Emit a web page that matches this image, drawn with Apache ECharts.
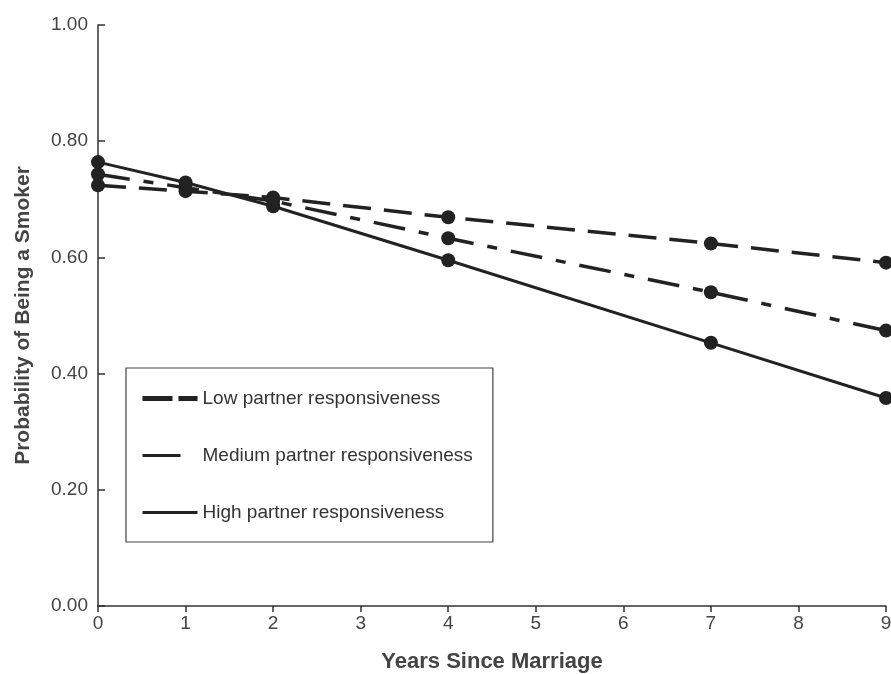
<!DOCTYPE html>
<html>
<head>
<meta charset="utf-8">
<script src="https://cdn.jsdelivr.net/npm/echarts@6/dist/echarts.min.js"></script>
<style>
html,body{margin:0;padding:0;background:#fff;}
#chart{width:891px;height:674px;}
</style>
</head>
<body>
<div id="chart"></div>
<script>
const years = [0, 1, 2, 4, 7, 9];
const lowResp = [0.724, 0.714, 0.703, 0.669, 0.624, 0.591];
const medResp = [0.743, 0.720, 0.697, 0.633, 0.540, 0.474];
const highResp = [0.764, 0.729, 0.688, 0.595, 0.453, 0.358];
const seriesNames = ['Low partner responsiveness', 'Medium partner responsiveness', 'High partner responsiveness'];
const yTicks = [0, 0.2, 0.4, 0.6, 0.8, 1.0];
const xTicks = [0, 1, 2, 3, 4, 5, 6, 7, 8, 9];

const pair = (arr) => years.map((x, i) => [x, arr[i]]);
const ink = '#222';
const fontFam = '"Liberation Sans", Arial, sans-serif';

const chart = echarts.init(document.getElementById('chart'));
chart.setOption({
  animation: false,
  backgroundColor: '#fff',
  grid: { left: 98, right: 5, top: 25, bottom: 68, containLabel: false, outerBoundsMode: 'none' },
  xAxis: {
    type: 'value',
    min: xTicks[0], max: xTicks[xTicks.length - 1], interval: 1,
    name: 'Years Since Marriage',
    nameLocation: 'middle', nameGap: 45,
    nameTextStyle: { fontFamily: fontFam, fontSize: 22, fontWeight: 'bold', color: '#444' },
    axisLine: { lineStyle: { color: '#333', width: 1.5 } },
    axisTick: { show: true, inside: false, length: 6, lineStyle: { color: '#333', width: 1.5 } },
    axisLabel: { fontFamily: fontFam, fontSize: 19, color: '#444', margin: 8 },
    splitLine: { show: false }
  },
  yAxis: {
    type: 'value',
    min: yTicks[0], max: yTicks[yTicks.length - 1], interval: 0.2,
    name: 'Probability of Being a Smoker',
    nameLocation: 'middle', nameGap: 64,
    nameTextStyle: { fontFamily: fontFam, fontSize: 21, fontWeight: 'bold', color: '#444' },
    axisLine: { show: true, lineStyle: { color: '#333', width: 1.5 } },
    axisTick: { show: true, inside: true, length: 7, lineStyle: { color: '#333', width: 1.5 } },
    axisLabel: { fontFamily: fontFam, fontSize: 19, color: '#444', margin: 10,
      formatter: (v) => v.toFixed(2) },
    splitLine: { show: false }
  },
  legend: {
    orient: 'vertical',
    left: 126, top: 368,
    padding: [21, 20, 20, 14],
    itemGap: 38,
    itemWidth: 55, itemHeight: 6,
    borderColor: '#444', borderWidth: 1.2,
    itemStyle: { color: 'rgba(0,0,0,0)', borderWidth: 0, opacity: 0 },
    textStyle: { fontFamily: fontFam, fontSize: 19, color: '#333' },
    data: [
      { name: seriesNames[0], lineStyle: { width: 5, type: [30, 6] } },
      { name: seriesNames[1], lineStyle: { width: 3, type: [38, 100] } },
      { name: seriesNames[2], lineStyle: { width: 3, type: 'solid' } }
    ]
  },
  series: [
    {
      name: seriesNames[0], type: 'line', data: pair(lowResp),
      symbol: 'circle', symbolSize: 14,
      itemStyle: { color: ink },
      lineStyle: { color: ink, width: 3.5, type: [28, 13] },
      z: 3
    },
    {
      name: seriesNames[1], type: 'line', data: pair(medResp),
      symbol: 'circle', symbolSize: 14,
      itemStyle: { color: ink },
      lineStyle: { color: ink, width: 3.5, type: [32, 14, 10, 14] },
      z: 3
    },
    {
      name: seriesNames[2], type: 'line', data: pair(highResp),
      symbol: 'circle', symbolSize: 14,
      itemStyle: { color: ink },
      lineStyle: { color: ink, width: 3, type: 'solid' },
      z: 4
    }
  ]
});
</script>
</body>
</html>
